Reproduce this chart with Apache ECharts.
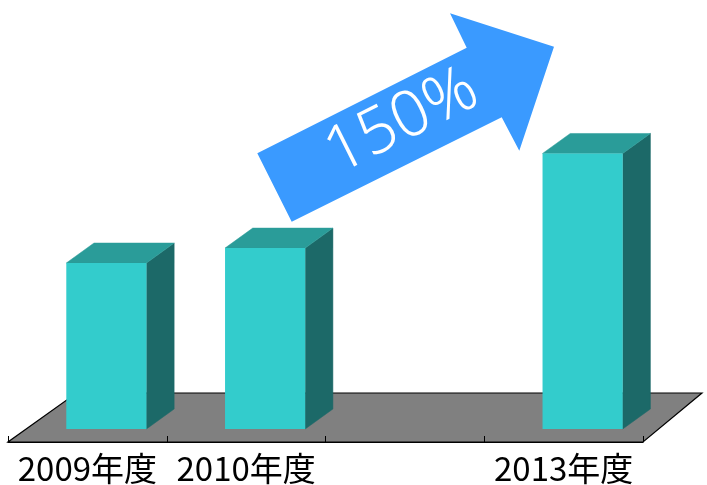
<!DOCTYPE html>
<html><head><meta charset="utf-8">
<script src="https://cdn.jsdelivr.net/npm/echarts@6/dist/echarts.min.js"></script>
<style>html,body{margin:0;padding:0;background:#fff}#c{width:707px;height:485px}</style>
</head><body><div id="c"></div>
<script>
var categories = ['2009年度', '2010年度', '', '2013年度'];
var barCategoryIndex = [0, 1, 3];
var barValues = [100, 109, 166];
var arrowLabel = '150%';

var chart = echarts.init(document.getElementById('c'), null, {renderer: 'canvas'});
var DX = 27.7, DY = 20, LIFT = 13, SHIFT = 19;
var barData = barCategoryIndex.map(function (c, i) { return [c, barValues[i]]; });

var option = {
  animation: false,
  grid: {left: 8, right: 64, top: 42, bottom: 43},
  xAxis: {
    type: 'category', data: categories, boundaryGap: true, z: 5,
    axisLine: {show: true, lineStyle: {color: '#000', width: 1.2}},
    axisTick: {show: true, inside: true, length: 6, interval: 0, alignWithLabel: false, lineStyle: {color: '#000', width: 1}},
    axisLabel: {color: '#000', fontSize: 33, interval: 0, fontFamily: '"Noto Sans CJK JP"', margin: 10, hideOverlap: false}
  },
  yAxis: {type: 'value', min: 0, max: 241, show: false, splitLine: {show: false}},
  series: [
    {
      type: 'custom', z: 1,
      data: [[0, 0]],
      renderItem: function (params, api) {
        var cs = params.coordSys;
        var fy = cs.y + cs.height, by = fy - 49;
        return {
          type: 'polygon',
          shape: {points: [[cs.x, fy], [cs.x + cs.width, fy], [cs.x + cs.width + 59, by], [cs.x + 68.5, by]]},
          style: {fill: '#808080', stroke: '#000', lineWidth: 1.2}
        };
      }
    },
    {
      type: 'custom', z: 2,
      data: barData,
      encode: {x: 0, y: 1},
      renderItem: function (params, api) {
        var top = api.coord([api.value(0), api.value(1)]);
        var base = api.coord([api.value(0), 0]);
        var bw = api.size([1, 0])[0];
        var w = bw * 0.505;
        var L = top[0] + SHIFT - w / 2, R = L + w;
        var T = top[1] - LIFT, B = base[1] - LIFT;
        return {
          type: 'group',
          children: [
            {type: 'polygon', shape: {points: [[R, T], [R + DX, T - DY], [R + DX, B - DY], [R, B]]},
             style: {fill: '#1C6968', stroke: '#1C6968', lineWidth: 0.5}},
            {type: 'polygon', shape: {points: [[L, T], [R, T], [R + DX, T - DY], [L + DX, T - DY]]},
             style: {fill: '#2A9C99', stroke: '#2A9C99', lineWidth: 0.5}},
            {type: 'rect', shape: {x: L, y: T, width: w, height: B - T},
             style: {fill: '#33CCCC'}}
          ]
        };
      }
    }
  ],
  graphic: [
    {
      type: 'polygon', z: 10,
      shape: {points: [[291.7, 221.7], [257.3, 153.3], [466.7, 47.7], [450, 13.3], [554, 46.7], [519.3, 150.7], [501.7, 117.3]]},
      style: {fill: '#3A9AFF'}
    },
    {
      type: 'text', z: 11,
      x: 402, y: 122, rotation: 0.464,
      style: {text: arrowLabel, fill: '#fff', fontSize: 64, fontWeight: 300,
              fontFamily: '"Noto Sans", sans-serif', align: 'center', verticalAlign: 'middle'}
    }
  ]
};
chart.setOption(option);
</script></body></html>
